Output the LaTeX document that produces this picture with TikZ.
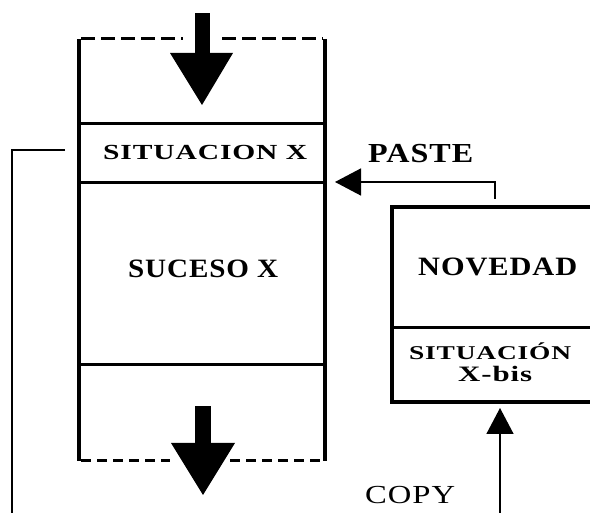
\documentclass[tikz,border=0pt]{standalone}
\usepackage{fontspec}
\usepackage{graphicx}
\setmainfont{Liberation Serif}[LetterSpace=3]
\usetikzlibrary{arrows.meta}

% text stretched horizontally to a given width: {width}{size}{text}
\newcommand\fitw[3]{\resizebox{#1pt}{\height}{\fontsize{#2}{#2}\selectfont #3}}

\tikzset{
  lbl/.style={inner sep=0pt, anchor=base west},
  wall/.style={line width=4pt},
  rule/.style={line width=3pt},
  edge/.style={line width=3pt, dash pattern=on 14pt off 6pt},
  edgelow/.style={line width=3pt, dash pattern=on 10pt off 6pt},
  link/.style={line width=1.5pt},
  block/.style={fill=black, draw=none},
  tri/.style={-{Triangle[length=26pt,width=27pt]}, line width=1.5pt}
}

\begin{document}
\begin{tikzpicture}[x=1pt,y=1pt]
\useasboundingbox (0,0) rectangle (590,513);
\clip (0,0) rectangle (590,513);

% main column
\coordinate (tl) at (79,474);
\coordinate (tr) at (325,474);
\coordinate (bl) at (79,52);
\coordinate (br) at (325,52);
\draw[wall] (tl) -- (bl);
\draw[wall] (tr) -- (br);
\draw[rule] (79,389) -- (325,389);
\draw[rule] (79,330) -- (325,330);
\draw[rule] (79,148) -- (325,148);

% open ends of the column
\draw[edge] (81,474) -- (183,474);
\draw[edge] (222,474) -- (323,474);
\draw[edgelow] (81,52) -- (170,52);
\draw[edgelow] (230,52) -- (323,52);

% block arrow entering from the top
\fill[block] (195,500) rectangle (210,459);
\fill[block] (170,460) -- (233,460) -- (202,408) -- cycle;

% block arrow leaving at the bottom
\fill[block] (195,107) rectangle (211,69);
\fill[block] (171,70) -- (235,70) -- (203,18) -- cycle;

% texts of the column
\node[lbl] (sitx) at (103,353) {\fitw{204}{21.5}{\bfseries SITUACION X}};
\node[lbl] (suc) at (128,235) {\fitw{150}{26.5}{\bfseries SUCESO X}};

% right box
\draw[wall] (600,306) -- (392,306) -- (392,111) -- (600,111);
\draw[rule] (392,185) -- (600,185);
\node[lbl] (nov) at (418,237) {\fitw{159}{26.5}{\bfseries NOVEDAD}};
\node[lbl] (sitb) at (409,153) {\fitw{162}{19.5}{\bfseries SITUACIÓN}};
\node[lbl] (xbis) at (458,131) {\fitw{74}{22}{\bfseries X-bis}};

% paste: from the box back into the column
\coordinate (pstart) at (495,314);
\coordinate (pturn) at (495,331);
\coordinate (ptip) at (335,331);
\draw[tri] (pstart) -- (pturn) -- (ptip);
\node[lbl] (paste) at (368,350) {\fitw{105}{27.5}{\bfseries PASTE}};

% copy: from below up into the box
\coordinate (cstart) at (500,0);
\coordinate (ctip) at (500,105);
\draw[tri] (cstart) -- (ctip);
\node[lbl] (copy) at (365,9) {\fitw{90}{26}{COPY}};

% line leaving the situation to the left and down
\coordinate (lstart) at (65,363);
\coordinate (lturn) at (12,363);
\coordinate (lend) at (12,0);
\draw[link] (lstart) -- (lturn) -- (lend);
\end{tikzpicture}
\end{document}
